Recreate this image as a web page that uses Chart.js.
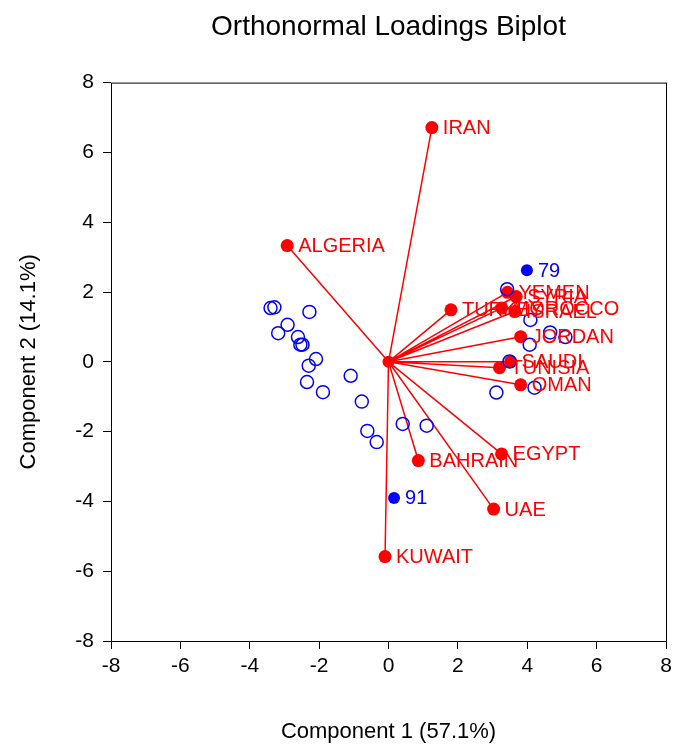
<!DOCTYPE html>
<html>
<head>
<meta charset="utf-8">
<script src="https://cdn.jsdelivr.net/npm/chart.js@4.4.1/dist/chart.umd.min.js"></script>
<style>
  html, body { margin: 0; padding: 0; background: #fff; }
  #wrap { width: 674px; height: 747px; }
</style>
</head>
<body>
<div id="wrap"><canvas id="c"></canvas></div>
<script>
// loadings (red arrows)
const countries = ['IRAN', 'ALGERIA', 'TURKEY', 'YEMEN', 'SYRIA', 'MOROCCO', 'ISRAEL', 'JORDAN',
                   'SAUDI', 'TUNISIA', 'OMAN', 'EGYPT', 'BAHRAIN', 'UAE', 'KUWAIT'];
const loadX = [1.25, -2.92, 1.80, 3.43, 3.68, 3.26, 3.64, 3.81, 3.52, 3.20, 3.81, 3.26, 0.86, 3.03, -0.10];
const loadY = [6.71, 3.33, 1.49, 1.99, 1.87, 1.54, 1.44, 0.72, 0.00, -0.17, -0.66, -2.64, -2.83, -4.22, -5.58];

// scores (open blue circles)
const scoreX = [-3.40, -3.29, -2.28, -2.91, -3.18, -2.61, -2.54, -2.48, -2.09, -2.30, -2.35, -1.89, -1.09,
                -0.77, -0.61, -0.34, 0.41, 1.10, 3.42, 4.09, 4.66, 5.10, 4.07, 3.49, 3.11, 4.21];
const scoreY = [1.54, 1.56, 1.43, 1.06, 0.82, 0.71, 0.49, 0.49, 0.08, -0.11, -0.58, -0.87, -0.40,
                -1.14, -1.98, -2.30, -1.78, -1.83, 2.08, 1.20, 0.84, 0.71, 0.49, 0.01, -0.88, -0.74];

// labelled outlying scores (filled blue)
const outLabels = ['79', '91'];
const outX = [3.99, 0.16];
const outY = [2.62, -3.90];

const ticks = [-8, -6, -4, -2, 0, 2, 4, 6, 8];

const RED = '#ff0000';
const BLUE = '#0000ff';
const FONT = "'Liberation Sans', Arial, Helvetica, sans-serif";

const arrows = [];
countries.forEach((c, i) => {
  arrows.push({ x: 0, y: 0 });
  arrows.push({ x: loadX[i], y: loadY[i] });
  arrows.push({ x: loadX[i], y: null });
});

const pointLabels = {
  id: 'pointLabels',
  afterDatasetsDraw(chart) {
    const ctx = chart.ctx;
    ctx.save();
    ctx.font = '20px ' + FONT;
    ctx.textBaseline = 'middle';
    ctx.textAlign = 'left';
    chart.data.datasets.forEach((ds, di) => {
      if (!ds.pointText) return;
      const meta = chart.getDatasetMeta(di);
      ctx.fillStyle = ds.textColor;
      meta.data.forEach((el, i) => {
        ctx.fillText(ds.pointText[i], el.x + 11, el.y + 1);
      });
    });
    ctx.restore();
  }
};

const frame = {
  id: 'frame',
  afterDraw(chart) {
    const a = chart.chartArea;
    const ctx = chart.ctx;
    ctx.save();
    ctx.strokeStyle = '#000';
    ctx.lineWidth = 1;
    ctx.strokeRect(a.left + 0.5, a.top + 0.5, a.right - a.left, a.bottom - a.top);
    ctx.restore();
  }
};

new Chart(document.getElementById('c'), {
  type: 'scatter',
  data: {
    datasets: [
      {
        label: 'arrows',
        data: arrows,
        showLine: true,
        spanGaps: false,
        borderColor: RED,
        borderWidth: 1.5,
        pointRadius: 0,
        order: 5
      },
      {
        label: 'origin',
        data: [{ x: 0, y: 0 }],
        pointRadius: 6,
        backgroundColor: RED,
        borderWidth: 0,
        order: 4
      },
      {
        label: 'loadings',
        data: countries.map((c, i) => ({ x: loadX[i], y: loadY[i] })),
        pointRadius: 6.5,
        backgroundColor: RED,
        borderWidth: 0,
        pointText: countries,
        textColor: RED,
        order: 3
      },
      {
        label: 'scores',
        data: scoreX.map((x, i) => ({ x: x, y: scoreY[i] })),
        pointRadius: 6.5,
        backgroundColor: 'rgba(0,0,0,0)',
        borderColor: BLUE,
        borderWidth: 1.5,
        order: 2
      },
      {
        label: 'outliers',
        data: outX.map((x, i) => ({ x: x, y: outY[i] })),
        pointRadius: 6,
        backgroundColor: BLUE,
        borderWidth: 0,
        pointText: outLabels,
        textColor: BLUE,
        order: 1
      }
    ]
  },
  options: {
    responsive: true,
    maintainAspectRatio: false,
    animation: false,
    events: [],
    layout: { padding: { left: 0, right: 7, top: 0, bottom: 0 } },
    plugins: {
      legend: { display: false },
      tooltip: { enabled: false },
      title: {
        display: true,
        fullSize: false,
        text: 'Orthonormal Loadings Biplot',
        color: '#000',
        font: { family: FONT, size: 28, weight: 'normal' },
        padding: { top: 10, bottom: 39 }
      }
    },
    scales: {
      x: {
        type: 'linear',
        min: -8,
        max: 8,
        afterBuildTicks: s => { s.ticks = ticks.map(v => ({ value: v })); },
        afterFit: s => { s.height = 106; s.paddingRight = 0; s.paddingLeft = 0; },
        grid: { drawOnChartArea: false, drawTicks: true, tickLength: 8, color: '#000', lineWidth: 1 },
        border: { display: false },
        ticks: { color: '#000', font: { family: FONT, size: 21 }, padding: 5, maxRotation: 0 },
        title: {
          display: true,
          text: 'Component 1 (57.1%)',
          color: '#000',
          font: { family: FONT, size: 22 },
          padding: { top: 0, bottom: 2 }
        }
      },
      y: {
        type: 'linear',
        min: -8,
        max: 8,
        afterBuildTicks: s => { s.ticks = ticks.map(v => ({ value: v })); },
        afterFit: s => { s.width = 111; },
        grid: { drawOnChartArea: false, drawTicks: true, tickLength: 8, color: '#000', lineWidth: 1 },
        border: { display: false },
        ticks: { color: '#000', font: { family: FONT, size: 21 }, padding: 9 },
        title: {
          display: true,
          text: 'Component 2 (14.1%)',
          color: '#000',
          font: { family: FONT, size: 22 },
          padding: { top: 16, bottom: 0 }
        }
      }
    }
  },
  plugins: [pointLabels, frame]
});
</script>
</body>
</html>
